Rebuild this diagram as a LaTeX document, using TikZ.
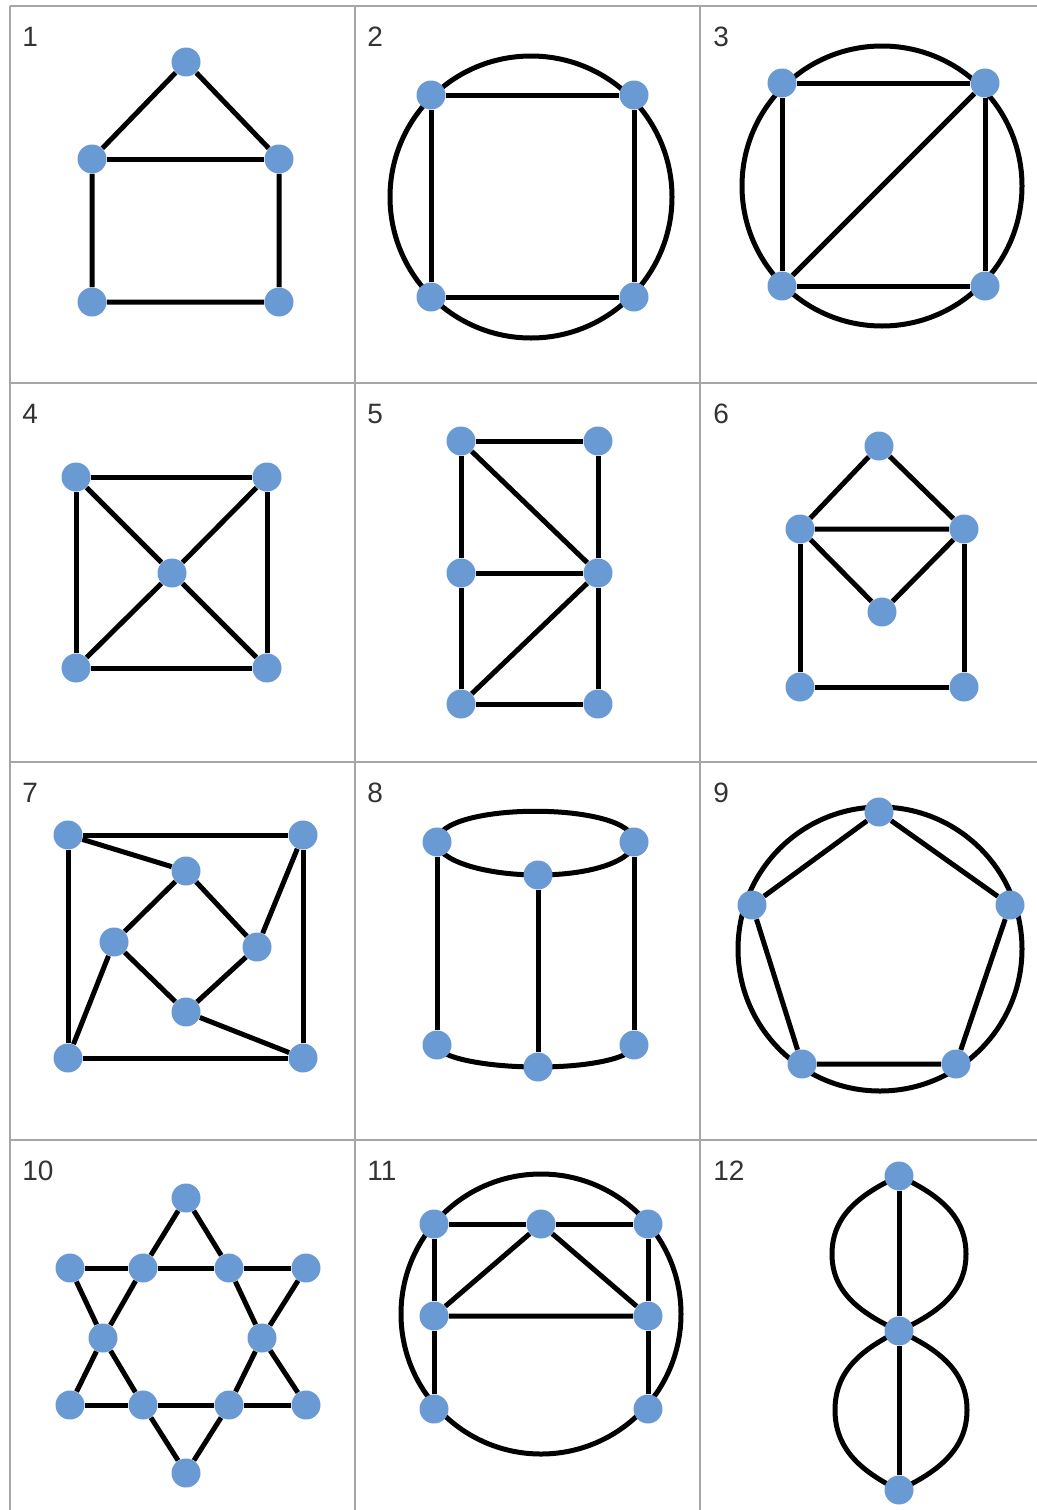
\documentclass[tikz,border=0pt]{standalone}
\usepackage{fontspec}
\setmainfont{Liberation Sans}
\usetikzlibrary{backgrounds}
\definecolor{vblue}{HTML}{6A9AD4}
\begin{document}
\begin{tikzpicture}[
		x=0.5pt, y=-0.5pt,
		v/.style    = {circle, fill=vblue, inner sep=0, minimum size=14.5pt},
		ed/.style   = {line width=2.5pt, black},
		cell/.style = {line width=0.8pt, gray!70},
		num/.style  = {anchor=base west, inner sep=0, text=black!80, font=\fontsize{14}{15}\selectfont}
		]
		\useasboundingbox (0,0) rectangle (1037,1510);
		
		%Cells
		\foreach \cx in {10, 355, 700} \draw[cell] (\cx,6) -- (\cx,1510);
		\foreach \cy in {6, 383, 762, 1140} \draw[cell] (10,\cy) -- (1037,\cy);
		
		%Numbers
		\node[num]	(t1)	at (22, 46)		{1};
		\node[num]	(t2)	at (367, 46)	{2};
		\node[num]	(t3)	at (713, 46)	{3};
		\node[num]	(t4)	at (22, 423)	{4};
		\node[num]	(t5)	at (367, 423)	{5};
		\node[num]	(t6)	at (713, 423)	{6};
		\node[num]	(t7)	at (22, 802)	{7};
		\node[num]	(t8)	at (367, 802)	{8};
		\node[num]	(t9)	at (713, 802)	{9};
		\node[num]	(t10)	at (22, 1180)	{10};
		\node[num]	(t11)	at (367, 1180)	{11};
		\node[num]	(t12)	at (713, 1180)	{12};
		
		%Nodes
		\node[v]	(a1)	at (186, 62)	{};
		\node[v]	(a2)	at (92, 159)	{};
		\node[v]	(a3)	at (279, 159)	{};
		\node[v]	(a4)	at (92, 302)	{};
		\node[v]	(a5)	at (279, 302)	{};
		
		\node[v]	(b1)	at (431, 95)	{};
		\node[v]	(b2)	at (634, 95)	{};
		\node[v]	(b3)	at (431, 297)	{};
		\node[v]	(b4)	at (634, 297)	{};
		
		\node[v]	(c1)	at (782, 83)	{};
		\node[v]	(c2)	at (985, 83)	{};
		\node[v]	(c3)	at (782, 286)	{};
		\node[v]	(c4)	at (985, 286)	{};
		
		\node[v]	(d1)	at (76, 477)	{};
		\node[v]	(d2)	at (267, 477)	{};
		\node[v]	(d3)	at (172, 573)	{};
		\node[v]	(d4)	at (76, 668)	{};
		\node[v]	(d5)	at (267, 668)	{};
		
		\node[v]	(e1)	at (461, 441)	{};
		\node[v]	(e2)	at (598, 441)	{};
		\node[v]	(e3)	at (461, 573)	{};
		\node[v]	(e4)	at (598, 573)	{};
		\node[v]	(e5)	at (461, 704)	{};
		\node[v]	(e6)	at (598, 704)	{};
		
		\node[v]	(f1)	at (879, 446)	{};
		\node[v]	(f2)	at (800, 529)	{};
		\node[v]	(f3)	at (964, 529)	{};
		\node[v]	(f4)	at (882, 612)	{};
		\node[v]	(f5)	at (800, 687)	{};
		\node[v]	(f6)	at (964, 687)	{};
		
		\node[v]	(g1)	at (68, 835)	{};
		\node[v]	(g2)	at (303, 835)	{};
		\node[v]	(g3)	at (186, 871)	{};
		\node[v]	(g4)	at (114, 942)	{};
		\node[v]	(g5)	at (257, 947)	{};
		\node[v]	(g6)	at (186, 1012)	{};
		\node[v]	(g7)	at (68, 1058)	{};
		\node[v]	(g8)	at (303, 1058)	{};
		
		\node[v]	(h1)	at (437, 842)	{};
		\node[v]	(h2)	at (634, 842)	{};
		\node[v]	(h3)	at (538, 875)	{};
		\node[v]	(h4)	at (437, 1045)	{};
		\node[v]	(h5)	at (634, 1045)	{};
		\node[v]	(h6)	at (538, 1067)	{};
		
		\node[v]	(i1)	at (879, 812)	{};
		\node[v]	(i2)	at (752, 905)	{};
		\node[v]	(i3)	at (1010, 905)	{};
		\node[v]	(i4)	at (802, 1064)	{};
		\node[v]	(i5)	at (956, 1064)	{};
		
		\node[v]	(j1)	at (186, 1198)	{};
		\node[v]	(j2)	at (70, 1268)	{};
		\node[v]	(j3)	at (143, 1268)	{};
		\node[v]	(j4)	at (229, 1268)	{};
		\node[v]	(j5)	at (306, 1268)	{};
		\node[v]	(j6)	at (103, 1338)	{};
		\node[v]	(j7)	at (262, 1338)	{};
		\node[v]	(j8)	at (70, 1405)	{};
		\node[v]	(j9)	at (143, 1405)	{};
		\node[v]	(j10)	at (229, 1405)	{};
		\node[v]	(j11)	at (306, 1405)	{};
		\node[v]	(j12)	at (186, 1473)	{};
		
		\node[v]	(k1)	at (434, 1224)	{};
		\node[v]	(k2)	at (541, 1224)	{};
		\node[v]	(k3)	at (648, 1224)	{};
		\node[v]	(k4)	at (434, 1316)	{};
		\node[v]	(k5)	at (648, 1316)	{};
		\node[v]	(k6)	at (434, 1409)	{};
		\node[v]	(k7)	at (648, 1409)	{};
		
		\node[v]	(l1)	at (899, 1176)	{};
		\node[v]	(l2)	at (899, 1331)	{};
		\node[v]	(l3)	at (899, 1490)	{};
		
		%Lines
		\draw[ed] (a4) -- (a2) -- (a1) -- (a3) -- (a5) -- (a4);
		\draw[ed] (a2) -- (a3);
		
		\draw[ed] (b1) -- (b2) -- (b4) -- (b3) -- (b1);
		
		\draw[ed] (c1) -- (c2) -- (c4) -- (c3) -- (c1);
		\draw[ed] (c3) -- (c2);
		
		\draw[ed] (d1) -- (d2) -- (d5) -- (d4) -- (d1);
		\draw[ed] (d1) -- (d3) -- (d5);
		\draw[ed] (d2) -- (d3) -- (d4);
		
		\draw[ed] (e2) -- (e1) -- (e3) -- (e5) -- (e6) -- (e4) -- (e2);
		\draw[ed] (e1) -- (e4) -- (e5);
		\draw[ed] (e3) -- (e4);
		
		\draw[ed] (f2) -- (f1) -- (f3) -- (f2);
		\draw[ed] (f2) -- (f4) -- (f3);
		\draw[ed] (f2) -- (f5) -- (f6) -- (f3);
		
		\draw[ed] (g1) -- (g2) -- (g8) -- (g7) -- (g1);
		\draw[ed] (g1) -- (g3) -- (g5) -- (g6) -- (g4) -- (g3);
		\draw[ed] (g2) -- (g5);
		\draw[ed] (g4) -- (g7);
		\draw[ed] (g6) -- (g8);
		
		\draw[ed] (h1) -- (h4);
		\draw[ed] (h3) -- (h6);
		\draw[ed] (h2) -- (h5);
		
		\draw[ed] (i1) -- (i3) -- (i5) -- (i4) -- (i2) -- (i1);
		
		\draw[ed] (j2) -- (j3) -- (j4) -- (j5);
		\draw[ed] (j8) -- (j9) -- (j10) -- (j11);
		\draw[ed] (j8) -- (j6) -- (j3) -- (j1) -- (j4) -- (j7) -- (j11);
		\draw[ed] (j2) -- (j6) -- (j9) -- (j12) -- (j10) -- (j7) -- (j5);
		
		\draw[ed] (k1) -- (k2) -- (k3) -- (k5) -- (k7);
		\draw[ed] (k1) -- (k4) -- (k6);
		\draw[ed] (k4) -- (k2) -- (k5) -- (k4);
		
		\draw[ed] (l1) -- (l2) -- (l3);
		
		%Curves
		\begin{scope}[on background layer]
			\coordinate (bc) at (531, 197);
			\coordinate (cc) at (882, 186);
			\coordinate (ic) at (880, 949);
			\coordinate (kc) at (541, 1314);
			\draw[ed] (bc) circle[radius=141];
			\draw[ed] (cc) circle[radius=140];
			\draw[ed] (ic) circle[radius=142];
			\draw[ed] (kc) circle[radius=140];
			
			\draw[ed] (h1.center) .. controls +(0,-41) and +(0,-41) .. (h2.center);
			\draw[ed] (h1.center) .. controls +(0,18) and +(-55,0) .. (h3.center);
			\draw[ed] (h3.center) .. controls +(55,0) and +(0,18) .. (h2.center);
			\draw[ed] (h4.center) .. controls +(0,12) and +(-55,0) .. (h6.center);
			\draw[ed] (h6.center) .. controls +(55,0) and +(0,12) .. (h5.center);
			
			\coordinate (ul) at (832, 1254);
			\coordinate (ur) at (966, 1254);
			\coordinate (dl) at (835, 1410);
			\coordinate (dr) at (967, 1410);
			\draw[ed] (l1.center) .. controls +(-41,19) and +(0,-37) .. (ul) .. controls +(0,37) and +(-41,-19) .. (l2.center);
			\draw[ed] (l1.center) .. controls +(41,19) and +(0,-37) .. (ur) .. controls +(0,37) and +(41,-19) .. (l2.center);
			\draw[ed] (l2.center) .. controls +(-39,19) and +(0,-38) .. (dl) .. controls +(0,38) and +(-39,-19) .. (l3.center);
			\draw[ed] (l2.center) .. controls +(41,19) and +(0,-38) .. (dr) .. controls +(0,38) and +(41,-19) .. (l3.center);
		\end{scope}
		
	\end{tikzpicture}
\end{document}
